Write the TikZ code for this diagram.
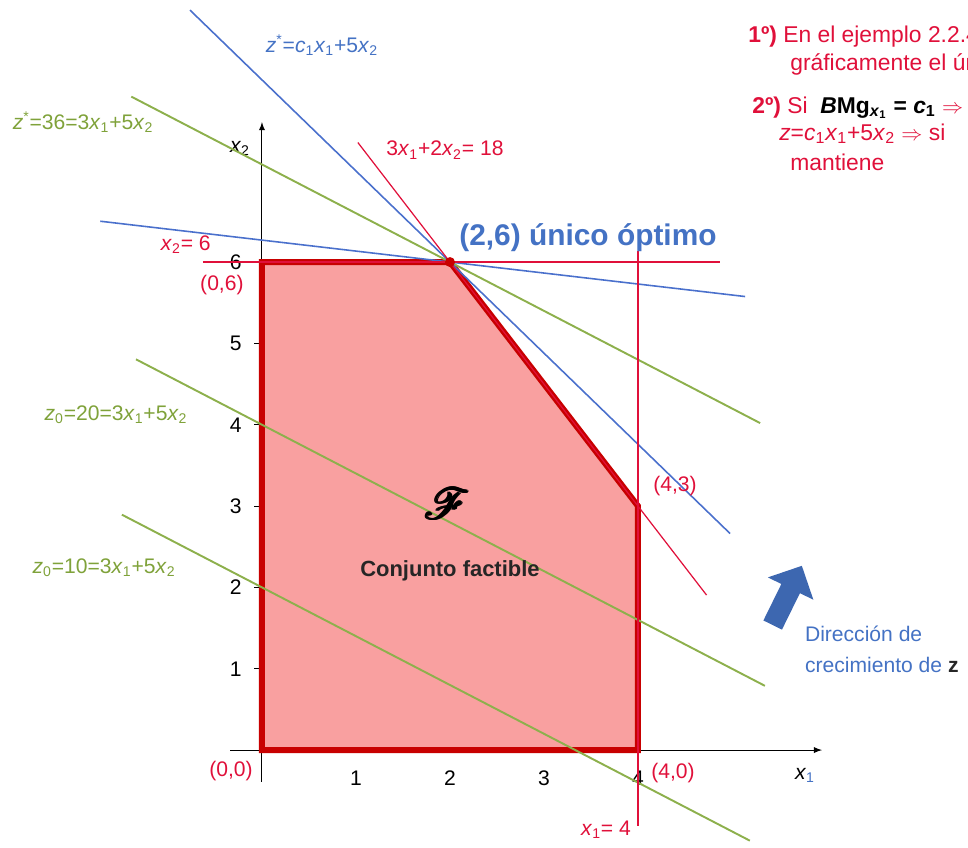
\documentclass[tikz,border=0pt]{standalone}
\usepackage{fontspec}
\setmainfont{Liberation Sans}
\usepackage{mathrsfs}
\usetikzlibrary{shapes.arrows}

\definecolor{zred}{HTML}{E0103A}
\definecolor{zgreen}{HTML}{8DB04C}
\definecolor{zgreentxt}{HTML}{7FA23A}
\definecolor{zblue}{HTML}{4A70CC}
\definecolor{zbluetxt}{HTML}{4472C4}
\definecolor{zborder}{HTML}{C80000}
\definecolor{zfill}{HTML}{F9A0A0}

\newcommand{\xs}[1]{\textit{x}\textsubscript{#1}}
% poor man's bold script F
\newcommand{\boldF}{\rlap{$\mathscr{F}$}\raisebox{0.6pt}{\rlap{$\mathscr{F}$}}\kern0.7pt\rlap{$\mathscr{F}$}\raisebox{0.6pt}{\rlap{$\mathscr{F}$}}\kern0.7pt$\mathscr{F}$}

\tikzset{
  lbl/.style={font=\fontsize{12}{14}\selectfont, inner sep=1pt},
  ticklbl/.style={lbl, text height=1.6ex, text depth=0pt},
  greenline/.style={zgreen, line width=1.1pt},
  blueline/.style={zblue, line width=0.9pt},
  redline/.style={zred, line width=0.7pt},
}

\begin{document}
\begin{tikzpicture}[x=1.88cm,y=1.6267cm]
\clip (-2.787,-1.193) rectangle (7.511,9.222);

% axes
\coordinate (O) at (0,0);
\coordinate (xa) at (-0.34,0);
\coordinate (xb) at (5.957,0);
\coordinate (ya) at (0,-0.39);
\coordinate (yb) at (0,7.72);
\draw[-latex, line width=0.6pt] (xa) -- (xb);
\draw[-latex, line width=0.6pt] (ya) -- (yb);
\foreach \i in {1,2,3} \draw[gray] (\i,0) -- (\i,0.1);
\foreach \j in {1,...,5} \draw[black] (-0.08,\j) -- (0,\j);
\foreach \i in {1,2,3,4} \node[ticklbl] (tx\i) at (\i,-0.34) {\i};
\foreach \j in {1,...,6} \node[ticklbl] (ty\j) at (-0.28,\j) {\j};
\node[lbl] (x1lab) at (5.777,-0.31) {\textit{x}\textsubscript{\textcolor{zbluetxt}{1}}};
\node[lbl] (x2lab) at (-0.234,7.40) {\xs{2}};

% feasible region
\coordinate (A) at (0,0);
\coordinate (B) at (4,0);
\coordinate (C) at (4,3);
\coordinate (D) at (2,6);
\coordinate (E) at (0,6);
\draw[zborder, fill=zfill, line width=3.4pt] (A) -- (B) -- (C) -- (D) -- (E) -- cycle;

% level lines
\coordinate (g1a) at (-1.39,8.034);
\coordinate (g1b) at (5.3,4.02);
\coordinate (g2a) at (-1.34,4.804);
\coordinate (g2b) at (5.35,0.79);
\coordinate (g3a) at (-1.49,2.894);
\coordinate (g3b) at (5.19,-1.114);
\draw[greenline] (g1a) -- (g1b);
\draw[greenline] (g2a) -- (g2b);
\draw[greenline] (g3a) -- (g3b);

\coordinate (b1a) at (-0.766,9.098);
\coordinate (b1b) at (4.98,2.662);
\coordinate (b2a) at (-1.72,6.502);
\coordinate (b2b) at (5.14,5.576);
\draw[blueline] (b1a) -- (b1b);
\draw[blueline] (b2a) -- (b2b);

\coordinate (r1a) at (1.02,7.47);
\coordinate (r1b) at (4.73,1.905);
\coordinate (r2a) at (-0.63,6);
\coordinate (r2b) at (4.87,6);
\coordinate (r3a) at (4,6.13);
\coordinate (r3b) at (4,-0.93);
\draw[redline] (r1a) -- (r1b);
\draw[redline] (r2a) -- (r2b);
\draw[redline] (r3a) -- (r3b);

\fill[zborder] (D) circle (0.1cm);

% labels
\node[lbl, zbluetxt] (zstar) at (0.638,8.668) {\textit{z}\textsuperscript{*}=\textit{c}\textsubscript{1}\xs{1}+5\xs{2}};
\node[lbl, zgreentxt] (z36) at (-1.904,7.72) {\textit{z}\textsuperscript{*}=36=3\xs{1}+5\xs{2}};
\node[lbl, zgreentxt] (z20) at (-1.553,4.119) {\textit{z}\textsubscript{0}=20=3\xs{1}+5\xs{2}};
\node[lbl, zgreentxt] (z10) at (-1.68,2.238) {\textit{z}\textsubscript{0}=10=3\xs{1}+5\xs{2}};
\node[lbl, zred] (rest1) at (1.947,7.377) {3\xs{1}+2\xs{2}= 18};
\node[lbl, zred] (rest2) at (-0.81,6.21) {\xs{2}= 6};
\node[lbl, zred] (rest3) at (3.66,-0.984) {\xs{1}= 4};
\node[lbl, zred] (p00) at (-0.33,-0.258) {(0,0)};
\node[lbl, zred] (p40) at (4.372,-0.283) {(4,0)};
\node[lbl, zred] (p43) at (4.394,3.246) {(4,3)};
\node[lbl, zred] (p06) at (-0.426,5.717) {(0,6)};
\node[zbluetxt, font=\bfseries\fontsize{17}{20}\selectfont, inner sep=1pt] (opt) at (3.468,6.295) {(2,6) único óptimo};

\node[font=\fontsize{42}{44}\selectfont, inner sep=0pt] (F) at (1.968,3.03) {\boldF};
\node[font=\bfseries\fontsize{12.5}{14}\selectfont, text=black!85, inner sep=1pt] (conj) at (2.0,2.20) {Conjunto factible};

% direction of growth
\node[single arrow, fill=zbluetxt!90!black, draw=none, rotate=63.8, minimum height=1.32cm,
  inner sep=0.2cm, single arrow head extend=0.3cm] (dir) at (5.564,1.844) {};
\node[lbl, zbluetxt, anchor=west] (dir1) at (5.755,1.426) {Dirección de};
\node[lbl, zbluetxt, anchor=west] (dir2) at (5.755,1.045) {crecimiento de \textcolor{black!85}{\textbf{z}}};

% notes top right
\begin{scope}[every node/.style={zred, anchor=base west, inner sep=0pt, font=\fontsize{13}{15}\selectfont}]
\node (n1) at (5.17,8.705) {\textbf{1º)} En el ejemplo 2.2.4};
\node (n2) at (5.617,8.361) {gráficamente el ún};
\node (n3) at (5.213,7.832) {\textbf{2º)} Si \ \textcolor{black}{\textbf{\textit{B}Mg\textsubscript{\textit{x}\textsubscript{1}} = \textit{c}\textsubscript{1}}} $\Rightarrow$};
\node (n4) at (5.50,7.50) {\textit{z}=\textit{c}\textsubscript{1}\xs{1}+5\xs{2} $\Rightarrow$ si};
\node (n5) at (5.617,7.131) {mantiene};
\end{scope}
\end{tikzpicture}
\end{document}
